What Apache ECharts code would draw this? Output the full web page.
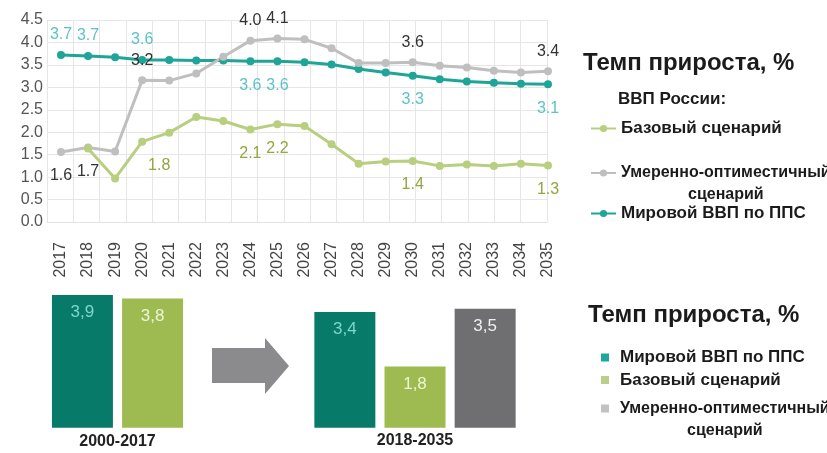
<!DOCTYPE html>
<html><head><meta charset="utf-8">
<script src="https://cdn.jsdelivr.net/npm/echarts@6/dist/echarts.min.js"></script>
<style>html,body{margin:0;padding:0;background:#fff}#c{width:827px;height:453px}</style>
</head><body><div id="c"></div>
<script>
// ---------- data ----------
const years = ['2017','2018','2019','2020','2021','2022','2023','2024','2025','2026','2027','2028','2029','2030','2031','2032','2033','2034','2035'];
const worldGdp     = [3.72,3.70,3.67,3.61,3.61,3.60,3.60,3.58,3.58,3.56,3.51,3.41,3.33,3.26,3.18,3.13,3.10,3.08,3.07];
const optScenario  = [1.56,1.66,1.57,3.16,3.15,3.31,3.68,4.04,4.09,4.07,3.87,3.54,3.54,3.56,3.48,3.44,3.37,3.33,3.36];
const baseScenario = [null,1.64,0.97,1.79,1.99,2.34,2.25,2.06,2.18,2.14,1.73,1.30,1.35,1.36,1.25,1.28,1.25,1.30,1.26];
const worldLabelled = ['2017','2018','2020','2024','2025','2030','2035'];
const optLabelled   = ['2017','2018','2020','2024','2025','2030','2035'];
const baseLabelled  = ['2020','2024','2025','2030','2035'];
const yTicks = [0,0.5,1,1.5,2,2.5,3,3.5,4,4.5];

const periodLeft  = ['2000-2017'];
const periodRight = ['2018-2035'];
const worldAvg = [3.9, 3.4];
const baseAvg  = [3.8, 1.8];
const optAvg   = [3.5];

const NAME_WORLD = 'Мировой ВВП по ППС';
const NAME_BASE  = 'Базовый сценарий';
const NAME_OPT   = 'Умеренно-оптиместичный сценарий';

// ---------- styles ----------
const FONT = '"Liberation Sans", Arial, sans-serif';
const C_TEAL = '#1ea597', C_GRAY = '#bfbfbf', C_GREEN = '#b7cf7e';
const C_TEAL_LBL = '#5cc3c6', C_GRAY_LBL = '#333333', C_GREEN_LBL = '#93a640';
const BAR_TEAL = '#087a69', BAR_GREEN = '#9dbb50', BAR_GRAY = '#6f6f71';

function lineData(values, labelled, posFn, color, offsetFn) {
  return values.map((v, i) => {
    if (v === null) return null;
    const y = years[i];
    if (!labelled.includes(y)) return { value: v };
    const pos = posFn(y);
    return {
      value: v,
      label: {
        show: true, position: pos, distance: pos === 'top' ? 8 : 12,
        offset: offsetFn ? offsetFn(y) : [0, 0],
        color: color, fontSize: 16, fontFamily: FONT,
        formatter: p => Number(p.value).toFixed(1)
      }
    };
  });
}

const fmtComma = p => Number(p.value).toFixed(1).replace('.', ',');

function lineSeries(name, values, color, data) {
  return {
    type: 'line', name: name, xAxisIndex: 0, yAxisIndex: 0,
    data: data, symbol: 'circle', symbolSize: 8, connectNulls: false,
    lineStyle: { color: color, width: 3 }, itemStyle: { color: color },
    label: { show: false }, z: 3
  };
}

function barSeries(name, value, xi, color, lblColor) {
  return {
    type: 'bar', name: name, xAxisIndex: xi, yAxisIndex: xi,
    data: [value], barWidth: 61, barGap: '15%',
    itemStyle: { color: color },
    label: { show: true, position: 'insideTop', distance: 9, color: lblColor,
      fontSize: 17, fontFamily: FONT, formatter: fmtComma }
  };
}

const titleStyle = { fontFamily: FONT, fontWeight: 'bold', fontSize: 24, color: '#1b1b1b' };
const legendText = (size) => ({ fontFamily: FONT, fontWeight: 'bold', fontSize: size, color: '#1b1b1b' });
const optFormatter = name => {
  const parts = name.split(' ');
  return '{a|' + parts[0] + '}\n{b|' + parts.slice(1).join(' ') + '}';
};
const optRich = (size) => ({
  a: { fontFamily: FONT, fontWeight: 'bold', fontSize: size, color: '#1b1b1b', lineHeight: 22 },
  b: { fontFamily: FONT, fontWeight: 'bold', fontSize: size, color: '#1b1b1b', lineHeight: 22, align: 'center' }
});
const squareIcon = 'path://M0,0L8,0L8,8L0,8Z';

const option = {
  backgroundColor: '#ffffff',
  animation: false,
  title: [
    { text: 'Темп прироста, %', left: 583, top: 51, padding: 0, textStyle: titleStyle },
    { text: 'ВВП России:', left: 618, top: 91, padding: 0,
      textStyle: { fontFamily: FONT, fontWeight: 'bold', fontSize: 17, color: '#1b1b1b' } },
    { text: 'Темп прироста, %', left: 588, top: 303, padding: 0, textStyle: titleStyle }
  ],
  legend: [
    { data: [NAME_BASE], left: 590, top: 120, padding: 0, itemWidth: 25, itemHeight: 9,
      selectedMode: false, textStyle: legendText(17) },
    { data: [NAME_OPT], left: 590, top: 165, padding: 0, itemWidth: 25, itemHeight: 9,
      selectedMode: false, formatter: optFormatter,
      textStyle: { fontFamily: FONT, fontWeight: 'bold', fontSize: 16, color: '#1b1b1b', padding: [22, 0, 0, 0], rich: optRich(16) } },
    { data: [NAME_WORLD], left: 590, top: 205, padding: 0, itemWidth: 25, itemHeight: 9,
      selectedMode: false, textStyle: legendText(17) },

    { data: [{ name: NAME_WORLD, icon: squareIcon, itemStyle: { color: '#1aa99a' } }], left: 601, top: 349,
      padding: 0, itemWidth: 20, itemHeight: 8, selectedMode: false, textStyle: legendText(17) },
    { data: [{ name: NAME_BASE, icon: squareIcon, itemStyle: { color: '#b8d08a' } }], left: 601, top: 371.5,
      padding: 0, itemWidth: 20, itemHeight: 8, selectedMode: false, textStyle: legendText(17) },
    { data: [{ name: NAME_OPT, icon: squareIcon, itemStyle: { color: '#c2c2c5' } }], left: 601, top: 400.5,
      padding: 0, itemWidth: 20, itemHeight: 8, selectedMode: false, formatter: optFormatter,
      textStyle: { fontFamily: FONT, fontWeight: 'bold', fontSize: 16, color: '#1b1b1b', padding: [22, 0, 0, 0], rich: optRich(16) } }
  ],
  grid: [
    { left: 61, right: 279, top: 20, bottom: 231 },   // line chart
    { left: 47, right: 280, top: 20, bottom: 231 },   // background grid lines
    { left: 37.5, width: 160, top: 291.7, bottom: 25.3 }, // bars 2000-2017
    { left: 305, width: 220, top: 291.7, bottom: 25.3 }   // bars 2018-2035
  ],
  xAxis: [
    { type: 'category', gridIndex: 0, data: years, boundaryGap: false,
      axisLine: { show: false }, axisTick: { show: false }, splitLine: { show: false },
      axisLabel: { rotate: 90, margin: 20, fontSize: 16, color: '#444', fontFamily: FONT, interval: 0 } },
    { type: 'category', gridIndex: 1, data: years, boundaryGap: true,
      axisLine: { show: true, lineStyle: { color: '#e2e2e2' } }, axisTick: { show: false },
      axisLabel: { show: false },
      splitLine: { show: true, interval: 0, lineStyle: { color: '#e6e6e6', width: 1 } } },
    { type: 'category', gridIndex: 2, data: periodLeft,
      axisLine: { show: false }, axisTick: { show: false },
      axisLabel: { margin: 6, fontSize: 16, fontWeight: 'bold', color: '#222', fontFamily: FONT } },
    { type: 'category', gridIndex: 3, data: periodRight,
      axisLine: { show: false }, axisTick: { show: false },
      axisLabel: { margin: 5, fontSize: 16, fontWeight: 'bold', color: '#222', fontFamily: FONT } }
  ],
  yAxis: [
    { type: 'value', gridIndex: 0, min: yTicks[0], max: yTicks[yTicks.length - 1], interval: 0.5,
      axisLine: { show: false }, axisTick: { show: false }, splitLine: { show: false },
      axisLabel: { margin: 18, fontSize: 16, color: '#555', fontFamily: FONT, formatter: v => v.toFixed(1) } },
    { type: 'value', gridIndex: 1, min: yTicks[0], max: yTicks[yTicks.length - 1], interval: 0.5,
      axisLine: { show: false }, axisTick: { show: false }, axisLabel: { show: false },
      splitLine: { show: true, lineStyle: { color: '#e6e6e6', width: 1 } } },
    { type: 'value', gridIndex: 2, min: 0, max: 4, show: false },
    { type: 'value', gridIndex: 3, min: 0, max: 4, show: false }
  ],
  series: [
    lineSeries(NAME_WORLD, worldGdp, C_TEAL,
      lineData(worldGdp, worldLabelled, y => (['2017','2018','2020'].includes(y) ? 'top' : 'bottom'), C_TEAL_LBL)),
    lineSeries(NAME_OPT, optScenario, C_GRAY,
      lineData(optScenario, optLabelled, y => (['2017','2018'].includes(y) ? 'bottom' : 'top'), C_GRAY_LBL)),
    lineSeries(NAME_BASE, baseScenario, C_GREEN,
      lineData(baseScenario, baseLabelled, y => 'bottom', C_GREEN_LBL, y => (y === '2020' ? [17, 0] : [0, 0]))),

    barSeries(NAME_WORLD, worldAvg[0], 2, BAR_TEAL, '#7dd6cf'),
    barSeries(NAME_BASE, baseAvg[0], 2, BAR_GREEN, '#eef4d8'),
    barSeries(NAME_WORLD, worldAvg[1], 3, BAR_TEAL, '#7dd6cf'),
    barSeries(NAME_BASE, baseAvg[1], 3, BAR_GREEN, '#eef4d8'),
    barSeries(NAME_OPT, optAvg[0], 3, BAR_GRAY, '#f0f0f0')
  ],
  graphic: [
    { type: 'polygon', silent: true,
      shape: { points: [[212,348],[265,348],[265,338],[289,366],[265,394],[265,383],[212,383]] },
      style: { fill: '#8b8b8d' } }
  ]
};

const chart = echarts.init(document.getElementById('c'), null, { renderer: 'canvas' });
chart.setOption(option);
</script>
</body></html>
